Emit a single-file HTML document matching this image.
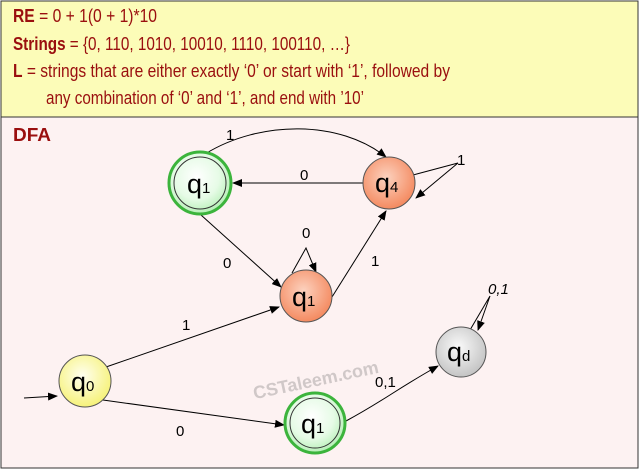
<!DOCTYPE html>
<html><head><style>
body{margin:0;width:639px;height:469px;overflow:hidden;background:#fff;font-family:"Liberation Sans",sans-serif}
</style></head><body>
<svg width="639" height="469" viewBox="0 0 639 469" xmlns="http://www.w3.org/2000/svg" font-family="Liberation Sans, sans-serif">
<defs>
<marker id="a" markerWidth="10" markerHeight="8" refX="9" refY="4" orient="auto" markerUnits="userSpaceOnUse"><path d="M0,0L10,4L0,8z" fill="#000"/></marker>
<radialGradient id="gg" cx="45%" cy="40%" r="60%"><stop offset="0" stop-color="#fff"/><stop offset="0.6" stop-color="#e6fbe6"/><stop offset="1" stop-color="#b5efb5"/></radialGradient>
<radialGradient id="og" cx="45%" cy="40%" r="60%"><stop offset="0" stop-color="#fcd2bf"/><stop offset="1" stop-color="#f48a60"/></radialGradient>
<radialGradient id="yg" cx="45%" cy="40%" r="60%"><stop offset="0" stop-color="#fffff0"/><stop offset="1" stop-color="#f6f27a"/></radialGradient>
<radialGradient id="dg" cx="45%" cy="40%" r="60%"><stop offset="0" stop-color="#fafafa"/><stop offset="1" stop-color="#c4c4c4"/></radialGradient>
</defs>
<rect x="1" y="1" width="637" height="116" fill="#fcfcb8" stroke="#333"/>
<rect x="1" y="117" width="637" height="351" fill="#fdf2f2" stroke="#333"/>
<g fill="#9a0f0f" font-size="18.5">
<text x="13" y="22" textLength="144" lengthAdjust="spacingAndGlyphs"><tspan font-weight="bold">RE</tspan> =  0 + 1(0 + 1)*10</text>
<text x="13" y="50" textLength="337" lengthAdjust="spacingAndGlyphs"><tspan font-weight="bold">Strings</tspan> = {0, 110, 1010, 10010, 1110, 100110, …}</text>
<text x="13" y="77" textLength="437" lengthAdjust="spacingAndGlyphs"><tspan font-weight="bold">L</tspan> =   strings that are either exactly ‘0’ or start with ‘1’, followed by</text>
<text x="46" y="104" textLength="318" lengthAdjust="spacingAndGlyphs">any combination of ‘0’ and ‘1’, and end with ’10’</text>
<text x="13" y="141" font-weight="bold" textLength="38" lengthAdjust="spacingAndGlyphs">DFA</text>
</g>
<text x="250" y="385" transform="rotate(-12 320 370)" font-size="18" font-weight="bold" fill="#d0c8c8">CSTaleem.com</text>
<g stroke="#000" stroke-width="1" fill="none">
<path d="M205,154 C260,120 340,120 386,157" marker-end="url(#a)"/>
<line x1="363" y1="183" x2="233" y2="183" marker-end="url(#a)"/>
<path d="M413,175 L458,163 L416,198" marker-end="url(#a)"/>
<line x1="201" y1="215" x2="281" y2="287" marker-end="url(#a)"/>
<path d="M292,273 L306,248 L316,272" marker-end="url(#a)"/>
<line x1="332" y1="297" x2="386" y2="211" marker-end="url(#a)"/>
<line x1="106" y1="367" x2="279" y2="307" marker-end="url(#a)"/>
<line x1="24" y1="398" x2="57" y2="396" marker-end="url(#a)"/>
<line x1="103" y1="400" x2="284" y2="425" marker-end="url(#a)"/>
<path d="M346,421 C385,400 395,390 438,366" marker-end="url(#a)"/>
<path d="M470,330 L490,296 L478,330" marker-end="url(#a)"/>
</g>
<g font-size="15" fill="#000">
<text x="226" y="140">1</text><text x="300" y="180">0</text><text x="457" y="165">1</text>
<text x="223" y="268">0</text><text x="302" y="238">0</text><text x="371" y="266">1</text>
<text x="182" y="330">1</text><text x="176" y="436">0</text><text x="375" y="387">0,1</text>
<text x="488" y="294" font-style="italic">0,1</text>
</g>
<circle cx="200" cy="183" r="31" fill="url(#gg)" stroke="#3cb43c" stroke-width="3"/>
<circle cx="200" cy="183" r="26" fill="none" stroke="#333" stroke-width="1"/>
<circle cx="389" cy="183" r="26" fill="url(#og)" stroke="#555"/>
<circle cx="306" cy="296" r="26" fill="url(#og)" stroke="#555"/>
<circle cx="85" cy="381" r="26" fill="url(#yg)" stroke="#555"/>
<circle cx="315" cy="423" r="30" fill="url(#gg)" stroke="#3cb43c" stroke-width="3"/>
<circle cx="315" cy="423" r="25" fill="none" stroke="#333"/>
<circle cx="461" cy="352" r="25" fill="url(#dg)" stroke="#555"/>
<g font-size="27" fill="#000">
<text x="187" y="193">q<tspan font-size="15">1</tspan></text>
<text x="375" y="192">q<tspan font-size="15">4</tspan></text>
<text x="292" y="306">q<tspan font-size="15">1</tspan></text>
<text x="71" y="391">q<tspan font-size="15">0</tspan></text>
<text x="301" y="433">q<tspan font-size="15">1</tspan></text>
<text x="447" y="361">q<tspan font-size="15">d</tspan></text>
</g>
</svg>
</body></html>
